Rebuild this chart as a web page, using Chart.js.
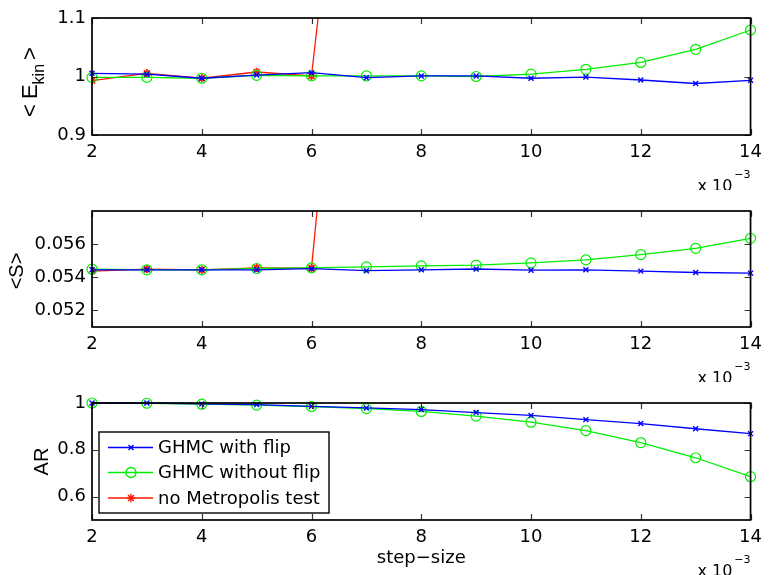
<!DOCTYPE html>
<html>
<head>
<meta charset="utf-8">
<title>GHMC step-size scan</title>
<script src="https://cdn.jsdelivr.net/npm/chart.js"></script>
<style>
  body { margin: 0; background: #fff; }
  #wrap { position: relative; width: 769px; height: 575px; }
  #wrap canvas { position: absolute; left: 0; }
</style>
</head>
<body>
<div id="wrap">
  <canvas id="c1" width="769" height="190" style="top:0px"></canvas>
  <canvas id="c2" width="769" height="192" style="top:190px"></canvas>
  <canvas id="c3" width="769" height="193" style="top:382px"></canvas>
</div>
<script>
// step-size in units of 1e-3
const stepSize = [2, 3, 4, 5, 6, 7, 8, 9, 10, 11, 12, 13, 14];

// <E_kin>
const ekinFlip    = [1.0055, 1.004, 0.997, 1.0025, 1.0065, 0.998, 1.001, 1.001, 0.997, 0.999, 0.994, 0.988, 0.9935];
const ekinNoFlip  = [0.9985, 0.9985, 0.997, 1.002, 1.001, 1.001, 1.001, 1.0, 1.004, 1.0123, 1.024, 1.0465, 1.0795];
const ekinNoMetro = [0.993, 1.0055, 0.997, 1.0077, 1.001, 1.83, null, null, null, null, null, null, null];
const ekinTicks = [0.9, 1, 1.1];

// <S>
const sFlip    = [0.05445, 0.05445, 0.05445, 0.05445, 0.05452, 0.0544, 0.05445, 0.0545, 0.05443, 0.05445, 0.05437, 0.05429, 0.05425];
const sNoFlip  = [0.05449, 0.05445, 0.05445, 0.05453, 0.05457, 0.05463, 0.05469, 0.05473, 0.05487, 0.05505, 0.05537, 0.05575, 0.05635];
const sNoMetro = [0.05437, 0.05449, 0.05445, 0.05457, 0.05455, 0.0887, null, null, null, null, null, null, null];
const sTicks = [0.052, 0.054, 0.056];

// acceptance rate
const arFlip    = [1.0, 1.0, 0.996, 0.993, 0.986, 0.979, 0.972, 0.959, 0.947, 0.929, 0.912, 0.89, 0.869];
const arNoFlip  = [1.0, 0.999, 0.995, 0.991, 0.985, 0.976, 0.964, 0.944, 0.918, 0.882, 0.831, 0.766, 0.685];
const arNoMetro = [null, null, null, null, null, null, null, null, null, null, null, null, null];
const arTicks = [0.6, 0.8, 1];

const xTicks = [2, 4, 6, 8, 10, 12, 14];
const labels = ['GHMC with flip', 'GHMC without flip', 'no Metropolis test'];

const tickFont = { family: 'DejaVu Sans', size: 18 };

function pts(vals) {
  return stepSize.map((x, i) => ({ x: x, y: vals[i] }));
}

// MATLAB-like box, inward ticks, labels and legend
const panelDeco = {
  id: 'panelDeco',
  afterDatasetsDraw(chart, args, o) {
    const ctx = chart.ctx;
    const a = chart.chartArea;
    const xs = chart.scales.x, ys = chart.scales.y;
    const tl = 6;
    ctx.save();
    // inward ticks
    ctx.strokeStyle = '#333';
    ctx.lineWidth = 1.2;
    ctx.beginPath();
    xs.ticks.forEach(t => {
      const px = Math.round(xs.getPixelForValue(t.value)) + 0.5;
      ctx.moveTo(px, a.bottom); ctx.lineTo(px, a.bottom - tl);
      ctx.moveTo(px, a.top); ctx.lineTo(px, a.top + tl);
    });
    ys.ticks.forEach(t => {
      const py = Math.round(ys.getPixelForValue(t.value)) + 0.5;
      ctx.moveTo(a.left, py); ctx.lineTo(a.left + tl, py);
      ctx.moveTo(a.right, py); ctx.lineTo(a.right - tl, py);
    });
    ctx.stroke();
    // box
    ctx.strokeStyle = '#000';
    ctx.lineWidth = 1.7;
    ctx.strokeRect(a.left, a.top, a.right - a.left, a.bottom - a.top);

    ctx.fillStyle = '#000';
    // y label (rotated, pieces allow subscript)
    ctx.save();
    ctx.translate(o.yLabelX, o.yLabelY);
    ctx.rotate(-Math.PI / 2);
    ctx.textBaseline = 'alphabetic';
    ctx.textAlign = 'left';
    let total = 0;
    o.yLabel.forEach(p => {
      ctx.font = p.size + 'px "Liberation Sans"';
      p.w = ctx.measureText(p.t).width;
      total += p.w + (p.gap || 0);
    });
    let cx = -total / 2;
    o.yLabel.forEach(p => {
      cx += p.gap || 0;
      ctx.font = p.size + 'px "Liberation Sans"';
      ctx.fillText(p.t, cx, p.dy || 0);
      cx += p.w;
    });
    ctx.restore();

    // exponent label  x 10^-3
    ctx.textBaseline = 'alphabetic';
    ctx.textAlign = 'left';
    ctx.font = '16px "DejaVu Sans"';
    const main = 'x 10';
    const wm = ctx.measureText(main).width;
    ctx.font = '11px "DejaVu Sans"';
    const sup = '\u22123';
    const wsup = ctx.measureText(sup).width;
    const ex = a.right - wm - wsup - 2;
    const ey = a.bottom + 56;
    ctx.font = '16px "DejaVu Sans"';
    ctx.fillText(main, ex, ey);
    ctx.font = '11px "DejaVu Sans"';
    ctx.fillText(sup, ex + wm + 2, ey - 13);

    // x title
    if (o.xTitle) {
      ctx.font = '18px "DejaVu Sans"';
      ctx.textAlign = 'center';
      ctx.fillText(o.xTitle, (a.left + a.right) / 2, a.bottom + 43);
    }

    // legend inside the axes
    if (o.legend) {
      const bx = a.left + 7, by = a.top + 29, bw = 230, bh = 81;
      ctx.fillStyle = '#fff';
      ctx.fillRect(bx, by, bw, bh);
      ctx.strokeStyle = '#000';
      ctx.lineWidth = 1.4;
      ctx.strokeRect(bx, by, bw, bh);
      const rows = [15.5, 40.5, 66];
      chart.data.datasets.forEach((d, i) => {
        const ry = by + rows[i];
        ctx.strokeStyle = d.borderColor;
        ctx.lineWidth = 1.4;
        ctx.beginPath();
        ctx.moveTo(bx + 9, ry); ctx.lineTo(bx + 54, ry);
        ctx.stroke();
        ctx.fillStyle = d.pointBackgroundColor;
        ctx.strokeStyle = d.borderColor;
        Chart.helpers.drawPoint(ctx, {
          pointStyle: d.pointStyle, radius: d.pointRadius,
          borderWidth: d.pointBorderWidth, rotation: 0
        }, bx + 32, ry);
        ctx.fillStyle = '#000';
        ctx.font = '18px "DejaVu Sans"';
        ctx.textAlign = 'left';
        ctx.textBaseline = 'middle';
        ctx.fillText(d.label, bx + 59, ry + 1);
      });
    }
    ctx.restore();
  }
};

function series(label, vals, color, style, radius, bw, clip) {
  return {
    label: label,
    data: pts(vals),
    borderColor: color,
    borderWidth: 1.3,
    pointStyle: style,
    pointRadius: radius,
    pointBorderWidth: bw,
    pointBorderColor: color,
    pointBackgroundColor: 'rgba(0,0,0,0)',
    tension: 0,
    clip: clip
  };
}

function panel(id, cfg) {
  return new Chart(document.getElementById(id), {
    type: 'line',
    data: {
      datasets: [
        series(labels[0], cfg.flip, '#0000ff', 'crossRot', 3.5, 1.4, false),
        series(labels[1], cfg.noFlip, '#00ee00', 'circle', 5, 1.2, false),
        series(labels[2], cfg.noMetro, '#ff1a00', 'star', 4.2, 1.8, undefined)
      ]
    },
    options: {
      responsive: false,
      animation: false,
      layout: { padding: { top: cfg.top, right: 14, left: 0, bottom: 0 } },
      plugins: {
        legend: { display: false },
        tooltip: { enabled: false },
        panelDeco: cfg.deco
      },
      scales: {
        x: {
          type: 'linear', min: 2, max: 14,
          afterBuildTicks: s => { s.ticks = xTicks.map(v => ({ value: v })); },
          afterFit: s => { s.height = cfg.axisH; },
          ticks: { color: '#000', font: tickFont, padding: 7, maxRotation: 0, callback: v => String(v) },
          grid: { display: false, drawTicks: false },
          border: { display: false }
        },
        y: {
          min: cfg.yMin, max: cfg.yMax,
          afterBuildTicks: s => { s.ticks = cfg.yTicks.map(v => ({ value: v })); },
          afterFit: s => { s.width = 92; },
          ticks: { color: '#000', font: tickFont, padding: 6, callback: v => String(v) },
          grid: { display: false, drawTicks: false },
          border: { display: false }
        }
      }
    },
    plugins: [panelDeco]
  });
}

panel('c1', {
  flip: ekinFlip, noFlip: ekinNoFlip, noMetro: ekinNoMetro,
  yMin: 0.9, yMax: 1.1, yTicks: ekinTicks, top: 18, axisH: 55,
  deco: {
    yLabelX: 37, yLabelY: 82,
    yLabel: [
      { t: '<', size: 22 },
      { t: 'E', size: 22, gap: 5 },
      { t: 'kin', size: 16, dy: 7 },
      { t: '>', size: 22, gap: 4 }
    ]
  }
});

panel('c2', {
  flip: sFlip, noFlip: sNoFlip, noMetro: sNoMetro,
  yMin: 0.051, yMax: 0.058, yTicks: sTicks, top: 21, axisH: 55,
  deco: { yLabelX: 23, yLabelY: 81, yLabel: [{ t: '<S>', size: 20 }] }
});

panel('c3', {
  flip: arFlip, noFlip: arNoFlip, noMetro: arNoMetro,
  yMin: 0.5, yMax: 1, yTicks: arTicks, top: 21, axisH: 55,
  deco: { yLabelX: 48, yLabelY: 79.5, yLabel: [{ t: 'AR', size: 20 }], xTitle: 'step\u2212size', legend: true }
});
</script>
</body>
</html>
